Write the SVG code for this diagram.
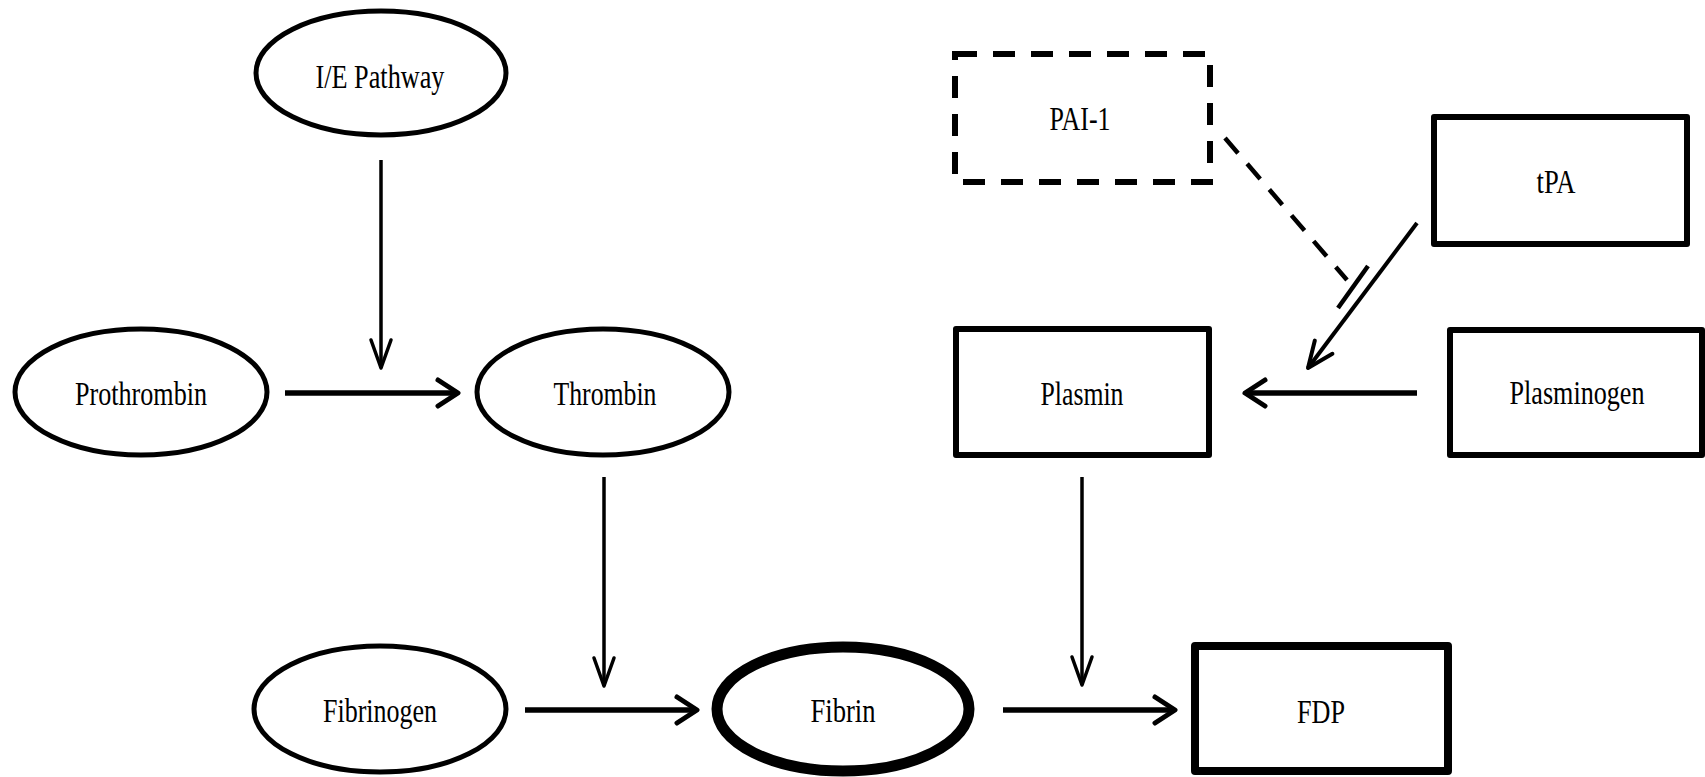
<svg xmlns="http://www.w3.org/2000/svg" width="1705" height="777" viewBox="0 0 1705 777">
<style>
.el{fill:#fff;stroke:#000;stroke-width:5}
.bx{fill:#fff;stroke:#000;stroke-width:6;stroke-linejoin:round}
.lb{font-family:"Liberation Serif","Times New Roman",serif;font-size:33px;fill:#000;text-anchor:middle}
.thick{stroke:#000;stroke-width:5.5;fill:none}
.thin{stroke:#000;stroke-width:3.5;fill:none}
</style>
<defs>
<marker id="ahT" markerUnits="userSpaceOnUse" markerWidth="44" markerHeight="44" viewBox="-34 -22 44 44" refX="0" refY="0" orient="auto">
<path d="M-20,-13 L0,0 L-20,13" fill="none" stroke="#000" stroke-width="5" stroke-linecap="round" stroke-linejoin="round"/>
</marker>
<marker id="ahS" markerUnits="userSpaceOnUse" markerWidth="44" markerHeight="44" viewBox="-34 -22 44 44" refX="0" refY="0" orient="auto">
<path d="M-26,-11 L0,0 L-26,11" fill="none" stroke="#000" stroke-width="4" stroke-linecap="round" stroke-linejoin="round"/>
</marker>
<marker id="ahV" markerUnits="userSpaceOnUse" markerWidth="44" markerHeight="44" viewBox="-34 -22 44 44" refX="0" refY="0" orient="auto">
<path d="M-28,-10 L0,0 L-28,10" fill="none" stroke="#000" stroke-width="3.5" stroke-linecap="round" stroke-linejoin="round"/>
</marker>
</defs>
<g id="connectors">
<line class="thin" x1="381" y1="160" x2="381" y2="368" marker-end="url(#ahV)"/>
<line class="thick" x1="285" y1="393" x2="458" y2="393" marker-end="url(#ahT)"/>
<line class="thin" x1="604" y1="477" x2="604" y2="686" marker-end="url(#ahV)"/>
<line class="thick" x1="525" y1="710" x2="697" y2="710" marker-end="url(#ahT)"/>
<line class="thin" x1="1082" y1="477" x2="1082" y2="685" marker-end="url(#ahV)"/>
<line class="thick" x1="1003" y1="710" x2="1175" y2="710" marker-end="url(#ahT)"/>
<line class="thick" x1="1417" y1="393" x2="1245" y2="393" marker-end="url(#ahT)"/>
<line stroke="#000" stroke-width="4" x1="1417" y1="223" x2="1308" y2="368" marker-end="url(#ahS)"/>
<line stroke="#000" stroke-width="4.5" stroke-dasharray="20 14" x1="1225" y1="138" x2="1347" y2="280"/>
<line stroke="#000" stroke-width="4.5" x1="1368" y1="266" x2="1338" y2="308"/>
</g>
<g id="node-ie">
<ellipse class="el" cx="381" cy="73" rx="125" ry="62"/>
<text class="lb" x="380" y="88" textLength="129" lengthAdjust="spacingAndGlyphs">I/E Pathway</text>
</g>
<g id="node-prothrombin">
<ellipse class="el" cx="141" cy="392" rx="126" ry="63"/>
<text class="lb" x="141" y="405" textLength="132" lengthAdjust="spacingAndGlyphs">Prothrombin</text>
</g>
<g id="node-thrombin">
<ellipse class="el" cx="603" cy="392" rx="126" ry="63"/>
<text class="lb" x="605" y="405" textLength="103" lengthAdjust="spacingAndGlyphs">Thrombin</text>
</g>
<g id="node-fibrinogen">
<ellipse class="el" cx="380" cy="709" rx="126" ry="63"/>
<text class="lb" x="380" y="722" textLength="114" lengthAdjust="spacingAndGlyphs">Fibrinogen</text>
</g>
<g id="node-fibrin">
<ellipse cx="843" cy="709" rx="126" ry="62" fill="#fff" stroke="#000" stroke-width="11"/>
<text class="lb" x="843" y="722" textLength="65" lengthAdjust="spacingAndGlyphs">Fibrin</text>
</g>
<g id="node-pai1">
<rect x="955" y="54" width="255" height="128" fill="#fff" stroke="#000" stroke-width="6" stroke-dasharray="22 16"/>
<text class="lb" x="1080" y="130" textLength="61" lengthAdjust="spacingAndGlyphs">PAI-1</text>
</g>
<g id="node-tpa">
<rect class="bx" x="1434" y="117" width="253" height="127"/>
<text class="lb" x="1556" y="193" textLength="39" lengthAdjust="spacingAndGlyphs">tPA</text>
</g>
<g id="node-plasmin">
<rect class="bx" x="956" y="329" width="253" height="126"/>
<text class="lb" x="1082" y="405" textLength="83" lengthAdjust="spacingAndGlyphs">Plasmin</text>
</g>
<g id="node-plasminogen">
<rect class="bx" x="1450" y="330" width="252" height="125"/>
<text class="lb" x="1577" y="404" textLength="135" lengthAdjust="spacingAndGlyphs">Plasminogen</text>
</g>
<g id="node-fdp">
<rect x="1195" y="646" width="253" height="125" fill="#fff" stroke="#000" stroke-width="8" stroke-linejoin="round"/>
<text class="lb" x="1321" y="723" textLength="48" lengthAdjust="spacingAndGlyphs">FDP</text>
</g>
</svg>
